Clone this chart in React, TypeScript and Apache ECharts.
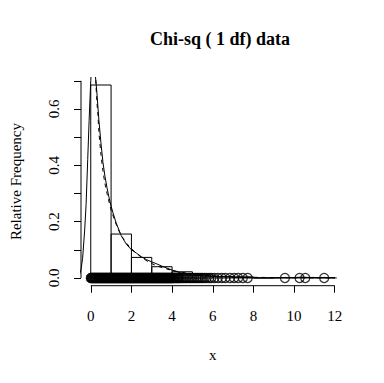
import React, { useEffect, useRef } from "react";
import * as echarts from "echarts";

// Histogram (relative frequency per unit-width bin)
const binStarts = [0, 1, 2, 3, 4, 5, 6, 7, 8, 9, 10, 11];
const binDensity = [0.685, 0.156, 0.073, 0.04, 0.022, 0.011, 0.005, 0.004, 0.0, 0.001, 0.002, 0.001];

// Observations drawn as circles on the baseline
const obsDense = [
  0.0, 0.025, 0.05, 0.075, 0.1, 0.125, 0.15, 0.175, 0.2, 0.225, 0.25, 0.275, 0.3, 0.325, 0.35, 0.375, 0.4, 0.425, 0.45, 0.475,
  0.5, 0.525, 0.55, 0.575, 0.6, 0.625, 0.65, 0.675, 0.7, 0.725, 0.75, 0.775, 0.8, 0.825, 0.85, 0.875, 0.9, 0.925, 0.95, 0.975,
  1.0, 1.025, 1.05, 1.075, 1.1, 1.125, 1.15, 1.175, 1.2, 1.225, 1.25, 1.275, 1.3, 1.325, 1.35, 1.375, 1.4, 1.425, 1.45, 1.475,
  1.5, 1.525, 1.55, 1.575, 1.6, 1.625, 1.65, 1.675, 1.7, 1.725, 1.75, 1.775, 1.8, 1.825, 1.85, 1.875, 1.9, 1.925, 1.95, 1.975,
  2.0, 2.025, 2.05, 2.075, 2.1, 2.125, 2.15, 2.175, 2.2, 2.225, 2.25, 2.275, 2.3, 2.325, 2.35, 2.375, 2.4, 2.425, 2.45, 2.475,
  2.5, 2.525, 2.55, 2.575, 2.6, 2.625, 2.65, 2.675, 2.7, 2.725, 2.75, 2.775, 2.8, 2.825, 2.85, 2.875, 2.9, 2.925, 2.95, 2.975,
  3.0, 3.025, 3.05, 3.075, 3.1, 3.125, 3.15, 3.175, 3.2, 3.225, 3.25, 3.275, 3.3, 3.325, 3.35, 3.375, 3.4, 3.425, 3.45, 3.475,
  3.5, 3.525, 3.55, 3.575, 3.6, 3.625, 3.65, 3.675, 3.7, 3.725, 3.75, 3.775, 3.8, 3.825, 3.85, 3.875, 3.9, 3.925, 3.95, 3.975,
  4.0, 4.03, 4.06, 4.1, 4.14, 4.18, 4.22, 4.26, 4.3,
];
const obsSparse = [
  4.34, 4.38, 4.45, 4.52, 4.58, 4.66, 4.72, 4.8, 4.88, 4.95,
  5.02, 5.1, 5.18, 5.25, 5.33, 5.42, 5.5, 5.6, 5.7, 5.82, 5.93,
  6.08, 6.25, 6.45, 6.62, 6.85,
  7.05, 7.25, 7.48, 7.72,
  9.55, 10.27, 10.55, 11.48,
];

// Kernel density estimate (solid)
const kdeX = [-0.6, -0.48, -0.4, -0.3, -0.23, -0.15, -0.08, 0.0, 0.05, 0.12, 0.2, 0.3, 0.4, 0.5, 0.6, 0.7, 0.8, 0.9, 1.0, 1.1, 1.25, 1.5, 1.75, 2.0, 2.25, 2.5, 2.75, 3.0, 3.25, 3.5, 3.75, 4.0, 4.25, 4.5, 5.0, 5.5, 6.0, 6.5, 7.0, 7.5, 8.0, 8.5, 9.0, 9.6, 10.0, 10.4, 10.8, 11.5, 12.1];
const kdeY = [0.0, 0.03, 0.07, 0.17, 0.26, 0.42, 0.56, 0.7, 0.76, 0.78, 0.74, 0.66, 0.56, 0.48, 0.41, 0.36, 0.32, 0.285, 0.255, 0.23, 0.195, 0.15, 0.12, 0.1, 0.088, 0.075, 0.065, 0.057, 0.05, 0.042, 0.035, 0.028, 0.022, 0.017, 0.01, 0.007, 0.005, 0.004, 0.003, 0.002, 0.001, 0.0003, 0.0003, 0.002, 0.001, 0.003, 0.001, 0.002, 0.0];

// Theoretical chi-square (1 df) density (dashed)
const chiX = [0.12, 0.18, 0.25, 0.3, 0.35, 0.4, 0.5, 0.6, 0.7, 0.8, 0.9, 1.0, 1.2, 1.4, 1.6, 1.8, 2.0, 2.5, 3.0, 3.5, 4.0, 4.5, 5.0, 6.0, 7.0, 8.0, 9.0, 10.0, 11.0, 12.0];
const chiY = [1.1, 0.88, 0.7, 0.627, 0.58, 0.52, 0.44, 0.38, 0.335, 0.3, 0.27, 0.242, 0.2, 0.165, 0.14, 0.12, 0.104, 0.073, 0.051, 0.037, 0.027, 0.02, 0.015, 0.008, 0.0045, 0.0025, 0.0015, 0.0009, 0.0005, 0.0003];

const xTicks = [0, 2, 4, 6, 8, 10, 12];
const yTicks = [0, 0.1, 0.2, 0.3, 0.4, 0.5, 0.6, 0.7];
const yLabels = [0, 0.2, 0.4, 0.6];

const titleText = "Chi-sq ( 1 df) data";
const xName = "x";
const yName = "Relative Frequency";

const FONT = "'Liberation Serif', 'DejaVu Serif', serif";

export default function App() {
  const ref = useRef<HTMLDivElement>(null);
  useEffect(() => {
    if (!ref.current) return;
    const chart = echarts.init(ref.current, undefined, { renderer: "svg" });
    const xMin = -0.48, xMax = 12.48, yMin = -0.0274, yMax = 0.712;
    const obs = obsDense.concat(obsSparse);
    const histData = binStarts.map((s, i) => [s, s + 1, binDensity[i]]);
    const option: any = {
      animation: false,
      backgroundColor: "#ffffff",
      title: {
        text: titleText,
        left: 215,
        top: 25,
        textAlign: "center",
        textStyle: { fontFamily: FONT, fontSize: 18, fontWeight: "bold", color: "#000" },
      },
      grid: { left: 77, right: 39.5, top: 77.4, bottom: 97.3, containLabel: false },
      xAxis: {
        type: "value",
        min: xMin,
        max: xMax,
        name: xName,
        nameLocation: "middle",
        nameGap: 62,
        nameTextStyle: { fontFamily: FONT, fontSize: 15, color: "#000" },
        axisLine: { show: false, onZero: false },
        axisTick: { show: true, length: 7, customValues: xTicks, lineStyle: { color: "#000", width: 1 } },
        axisLabel: { customValues: xTicks, margin: 23, fontFamily: FONT, fontSize: 15, color: "#000", formatter: (v: number) => String(v) },
        splitLine: { show: false },
      },
      yAxis: {
        type: "value",
        min: yMin,
        max: yMax,
        name: yName,
        nameLocation: "middle",
        nameGap: 58,
        nameRotate: 90,
        nameTextStyle: { fontFamily: FONT, fontSize: 15, color: "#000" },
        axisLine: { show: false, onZero: false },
        axisTick: { show: true, length: 7, customValues: yTicks, lineStyle: { color: "#000", width: 1 } },
        axisLabel: { customValues: yLabels, rotate: 90, margin: 20, fontFamily: FONT, fontSize: 15, color: "#000", formatter: (v: number) => v.toFixed(1) },
        splitLine: { show: false },
      },
      series: [
        {
          type: "custom",
          clip: true,
          data: histData,
          renderItem: (params: any, api: any) => {
            const p0 = api.coord([api.value(0), api.value(2)]);
            const p1 = api.coord([api.value(1), 0]);
            return {
              type: "rect",
              shape: { x: p0[0], y: p0[1], width: p1[0] - p0[0], height: p1[1] - p0[1] },
              style: { fill: "none", stroke: "#000", lineWidth: 1 },
            };
          },
          z: 1,
        },
        {
          type: "line",
          data: kdeX.map((x, i) => [x, kdeY[i]]),
          showSymbol: false,
          symbol: "none",
          clip: true,
          lineStyle: { color: "#000", width: 1 },
          z: 2,
        },
        {
          type: "line",
          data: chiX.map((x, i) => [x, chiY[i]]),
          showSymbol: false,
          symbol: "none",
          smooth: 0.3,
          clip: true,
          lineStyle: { color: "#000", width: 1, type: [4, 4] },
          z: 2,
        },
        {
          type: "scatter",
          data: obs.map((x) => [x, 0]),
          symbol: "circle",
          symbolSize: 9,
          itemStyle: { color: "rgba(0,0,0,0)", borderColor: "#000", borderWidth: 1.2 },
          z: 3,
        },
        {
          type: "line",
          data: [[xTicks[0], yMin], [xTicks[xTicks.length - 1], yMin]],
          showSymbol: false,
          symbol: "none",
          clip: false,
          lineStyle: { color: "#000", width: 1 },
          z: 4,
        },
        {
          type: "line",
          data: [[xMin, yTicks[0]], [xMin, yTicks[yTicks.length - 1]]],
          showSymbol: false,
          symbol: "none",
          clip: false,
          lineStyle: { color: "#000", width: 1 },
          z: 4,
        },
      ],
    };
    chart.setOption(option);
    return () => chart.dispose();
  }, []);
  return (
    <div
      ref={ref}
      style={{ position: "fixed", left: 0, top: 0, width: 384, height: 383, background: "#fff" }}
    />
  );
}
